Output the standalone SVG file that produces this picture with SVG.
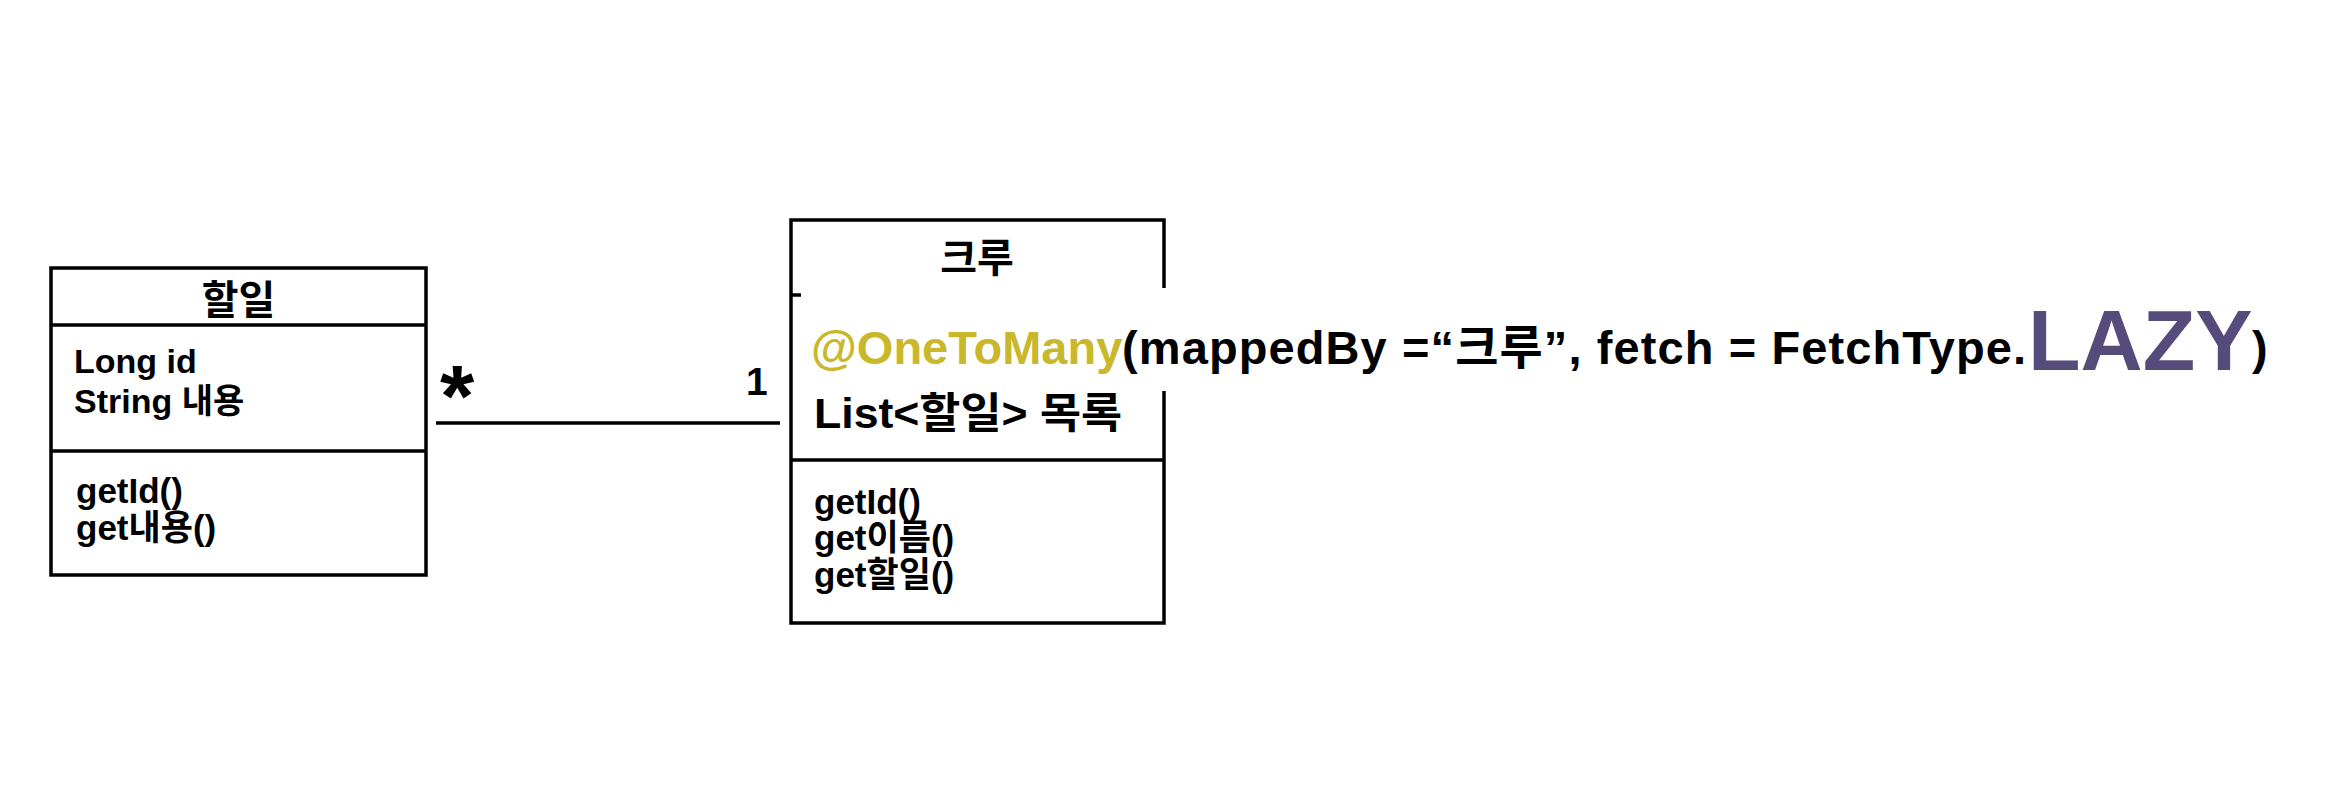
<svg xmlns="http://www.w3.org/2000/svg" width="2340" height="812" viewBox="0 0 2340 812">
<style>
  .box { fill: #ffffff; stroke: #000000; stroke-width: 3.5; }
  .div { stroke: #000000; stroke-width: 3.5; }
  .t { font-family: "Liberation Sans", "Noto Sans CJK KR", sans-serif; font-weight: bold; fill: #000000; }
  .title { font-size: 40px; text-anchor: middle; }
  .attr { font-size: 34px; }
  .meth { font-size: 35px; }
  .ann { font-size: 47px; }
  .kw { fill: #C9B72C; }
  .lazy { fill: #564C7C; font-size: 86px; }
</style>
<rect x="0" y="0" width="2340" height="812" fill="#ffffff"/>

<g id="node-halil">
  <rect class="box" x="51" y="268" width="375" height="307"/>
  <line class="div" x1="51" y1="325" x2="426" y2="325"/>
  <line class="div" x1="51" y1="451" x2="426" y2="451"/>
  <text class="t title" x="238.5" y="314">할일</text>
  <text class="t attr" x="74" y="373">Long id</text>
  <text class="t attr" x="74" y="413">String 내용</text>
  <text class="t meth" x="76" y="503">getId()</text>
  <text class="t meth" x="76" y="540">get내용()</text>
</g>

<g id="node-crew">
  <rect class="box" x="791" y="220" width="373" height="403"/>
  <line class="div" x1="791" y1="295" x2="1164" y2="295"/>
  <line class="div" x1="791" y1="460" x2="1164" y2="460"/>
  <text class="t title" x="977" y="272">크루</text>
  <text class="t" x="814" y="428" font-size="42" textLength="308" lengthAdjust="spacingAndGlyphs">List&lt;할일&gt; 목록</text>
  <text class="t meth" x="814" y="514">getId()</text>
  <text class="t meth" x="814" y="550">get이름()</text>
  <text class="t meth" x="814" y="587">get할일()</text>
</g>

<g id="connectors">
  <line class="div" x1="436" y1="423" x2="780" y2="423"/>
  <text class="t" x="440" y="426" font-family="DejaVu Sans, sans-serif" font-size="88">*</text>
  <text class="t" x="746" y="395" font-size="39">1</text>
</g>

<g id="annotation">
  <rect x="801" y="288" width="1490" height="103" fill="#ffffff"/>
  <text class="t ann kw" x="811" y="364">@OneToMany</text>
  <text class="t ann" x="1122" y="364" textLength="904" lengthAdjust="spacing">(mappedBy =“크루”, fetch = FetchType.</text>
  <text class="t lazy" x="2028" y="370">LAZY</text>
  <text class="t ann" x="2252" y="364">)</text>
</g>
</svg>
